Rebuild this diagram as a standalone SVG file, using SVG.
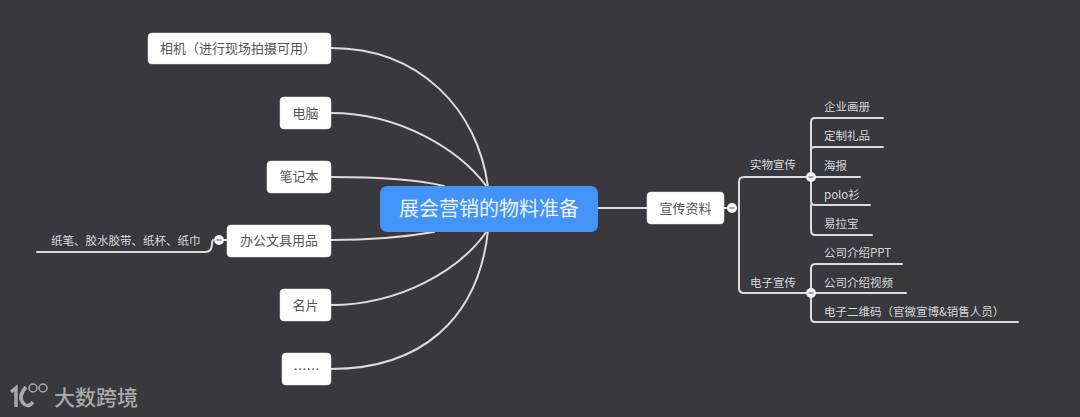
<svg xmlns="http://www.w3.org/2000/svg" width="1080" height="417" viewBox="0 0 1080 417">
<style>
text{font-family:"Noto Sans CJK SC","Liberation Sans",sans-serif;text-anchor:middle}
.c{fill:none;stroke:#dcdcdc;stroke-width:2;stroke-linecap:round}
.n{fill:#fff;stroke:#e8e8e8;stroke-width:.5}
.t{font-size:13px;fill:#555}
.l{font-size:11.500px;fill:#d8d8d8;text-anchor:start}
.k{fill:#f2f2f2}
.m{stroke:#777;stroke-width:1.200}
.w{fill:none;stroke:#a8a8a8}
</style>
<rect width="1080" height="417" fill="#39393d"/>
<g id="connectors">
<path class="c" d="M331 48C420 48 478 110 488 187"/>
<path class="c" d="M331 113C400 113 460 150 487 187"/>
<path class="c" d="M331 177C370 177 415 179 444 186"/>
<path class="c" d="M331 240C375 240 405 237 434 232"/>
<path class="c" d="M331 305C400 305 460 270 487 231"/>
<path class="c" d="M331 369C420 369 478 320 488 231"/>
<path class="c" d="M598 208H647"/>
<path class="c" d="M724 208H732"/>
<path class="c" d="M806 177H744Q739 177 739 182V288Q739 293 744 293H806"/>
<path class="c" d="M811 177V122Q811 118 815 118H883"/>
<path class="c" d="M811 150Q811 147 815 147H883"/>
<path class="c" d="M811 177H860"/>
<path class="c" d="M811 177V201Q811 205 815 205H870"/>
<path class="c" d="M811 205V230Q811 235 815 235H872"/>
<path class="c" d="M811 293V269Q811 264 815 264H902"/>
<path class="c" d="M811 293H906"/>
<path class="c" d="M811 293V318Q811 322 815 322H1018"/>
<path class="c" d="M227 240H220"/>
<path class="c" d="M213 240Q212 241 212 244Q212 252 205 252H37"/>
</g>
<g id="node-center"><rect x="380" y="186" width="218" height="46" rx="7" fill="#4493f8"/><text x="489" y="216" font-size="20" fill="#eaf3ff">展会营销的物料准备</text></g>
<g id="node-camera"><rect class="n" x="148" y="33" width="183" height="31" rx="4"/><text class="t" x="238" y="53">相机（进行现场拍摄可用）</text></g>
<g id="node-computer"><rect class="n" x="280" y="97" width="51" height="32" rx="4"/><text class="t" x="305.500" y="118">电脑</text></g>
<g id="node-notebook"><rect class="n" x="267" y="161" width="64" height="32" rx="4"/><text class="t" x="299" y="181">笔记本</text></g>
<g id="node-office"><rect class="n" x="227" y="225" width="104" height="32" rx="4"/><text class="t" x="279" y="245">办公文具用品</text></g>
<g id="node-card"><rect class="n" x="280" y="289" width="51" height="32" rx="4"/><text class="t" x="305.500" y="310">名片</text></g>
<g id="node-more"><rect class="n" x="282" y="353" width="49" height="32" rx="4"/><text class="t" x="306.500" y="374">……</text></g>
<g id="node-promo"><rect class="n" x="647" y="192" width="77" height="32" rx="4"/><text class="t" x="685.500" y="213">宣传资料</text></g>
<g id="leaf-stationery"><text class="l" x="51" y="245">纸笔、胶水胶带、纸杯、纸巾</text></g>
<g id="branch-physical"><text class="l" x="750" y="169">实物宣传</text></g>
<g id="branch-digital"><text class="l" x="750" y="287">电子宣传</text></g>
<g id="leaf-1"><text class="l" x="824" y="111">企业画册</text></g>
<g id="leaf-2"><text class="l" x="824" y="140">定制礼品</text></g>
<g id="leaf-3"><text class="l" x="824" y="170">海报</text></g>
<g id="leaf-4"><text class="l" x="824" y="199">polo衫</text></g>
<g id="leaf-5"><text class="l" x="824" y="228">易拉宝</text></g>
<g id="leaf-6"><text class="l" x="824" y="257">公司介绍PPT</text></g>
<g id="leaf-7"><text class="l" x="824" y="287">公司介绍视频</text></g>
<g id="leaf-8"><text class="l" x="824" y="316">电子二维码（官微宣博&amp;销售人员）</text></g>
<g id="collapse-markers">
<circle class="k" cx="732" cy="208" r="5"/><path class="m" d="M729.500 208H734.500"/>
<circle class="k" cx="811" cy="177" r="5"/><path class="m" d="M808.500 177H813.500"/>
<circle class="k" cx="811" cy="293" r="5"/><path class="m" d="M808.500 293H813.500"/>
<circle class="k" cx="219" cy="240" r="5"/><path class="m" d="M216.500 240H221.500"/>
</g>
<g id="watermark">
<path class="w" stroke-width="3.500" d="M11 392L16 388V407M26 387Q17 397 24 404Q29 408 33 402"/>
<circle class="w" stroke-width="1.500" cx="33" cy="388" r="4"/><circle class="w" stroke-width="1.500" cx="43" cy="388" r="4"/>
<text x="96" y="405" font-size="21" font-weight="500" fill="#a8a8a8">大数跨境</text>
</g>
</svg>
